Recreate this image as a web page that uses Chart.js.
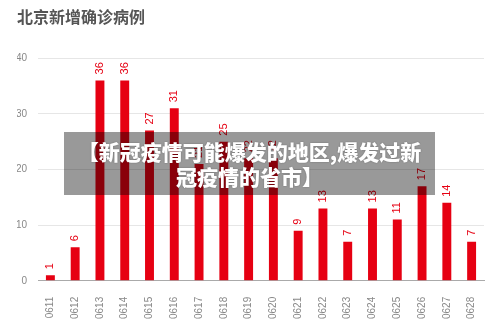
<!DOCTYPE html>
<html><head><meta charset="utf-8">
<script src="https://cdn.jsdelivr.net/npm/chart.js@4.4.1/dist/chart.umd.min.js"></script>
<style>
html,body{margin:0;padding:0;background:#fff;}
#wrap{position:relative;width:500px;height:327px;}
#banner{position:absolute;left:64px;top:132px;width:371px;height:63px;background:rgba(0,0,0,0.4);color:#fff;
font-family:"Noto Sans CJK SC",sans-serif;font-weight:900;font-size:21px;line-height:25px;text-align:center;
display:flex;align-items:center;justify-content:center;text-shadow:0 0 2px rgba(0,0,0,0.3);white-space:nowrap;}
</style></head>
<body><div id="wrap"><canvas id="c" width="500" height="327"></canvas>
<div id="banner">【新冠疫情可能爆发的地区,爆发过新<br>冠疫情的省市】</div></div>
<script>
const titleText = "北京新增确诊病例";
const categories = ["0611","0612","0613","0614","0615","0616","0617","0618","0619","0620","0621","0622","0623","0624","0625","0626","0627","0628"];
const cases = [1,6,36,36,27,31,21,25,22,22,9,13,7,13,11,17,14,7];
const yTicks = [0,10,20,30,40];

const valueLabels = {
  id:'valueLabels',
  afterDatasetsDraw(chart){
    const ctx = chart.ctx;
    const meta = chart.getDatasetMeta(0);
    ctx.save();
    ctx.fillStyle = '#e60012';
    ctx.font = '11px "Liberation Sans", Arial, sans-serif';
    ctx.textAlign = 'left';
    ctx.textBaseline = 'middle';
    meta.data.forEach((bar,i)=>{
      ctx.save();
      ctx.translate(bar.x, bar.y - 6);
      ctx.rotate(-Math.PI/2);
      ctx.fillText(String(cases[i]), 0, 0);
      ctx.restore();
    });
    ctx.restore();
  }
};

new Chart(document.getElementById('c'), {
  type:'bar',
  data:{labels:categories, datasets:[{data:cases, backgroundColor:'#e60012', barPercentage:0.72, categoryPercentage:0.5}]},
  options:{
    responsive:false, animation:false,
    layout:{padding:{left:17,right:16,top:0,bottom:0}},
    plugins:{
      legend:{display:false}, tooltip:{enabled:false},
      title:{display:true, text:titleText, align:'start', color:'#555',
        font:{family:'"Noto Sans CJK SC", sans-serif', size:16, weight:'bold'}, padding:{top:7,bottom:32}}
    },
    scales:{
      x:{
        grid:{display:false}, border:{color:'#aaa'},
        ticks:{minRotation:90, maxRotation:90, color:'#888', padding:8, font:{family:'"Liberation Sans", Arial, sans-serif', size:10}}
      },
      y:{
        min:0, max:40, afterFit(s){ s.width = 21; },
        afterBuildTicks(s){ s.ticks = yTicks.map(v=>({value:v})); },
        grid:{color:'#e6e6e6', drawTicks:false}, border:{display:false},
        ticks:{color:'#888', padding:11, font:{family:'"Liberation Sans", Arial, sans-serif', size:10}}
      }
    }
  },
  plugins:[valueLabels]
});
</script></body></html>
